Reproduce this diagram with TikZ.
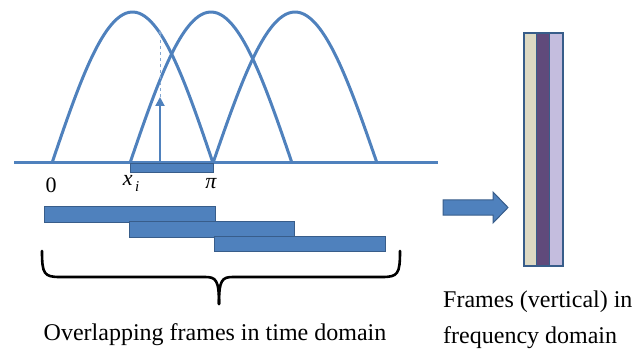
\documentclass[tikz,border=0pt]{standalone}
\usepackage{fontspec}
\setmainfont{Liberation Serif}
\usetikzlibrary{arrows.meta}
\definecolor{pblue}{HTML}{4F81BD}
\definecolor{pdark}{HTML}{385D8A}
\definecolor{beige}{HTML}{DDD9C3}
\definecolor{plum}{HTML}{604A7B}
\definecolor{lav}{HTML}{C4BDDE}
\tikzset{
  arch/.style={draw=pblue, line width=3pt},
  bar/.style={draw=pdark, fill=pblue, line width=1pt, inner sep=0pt, anchor=north west},
  strip/.style={draw=pdark, line width=1.2pt, inner sep=0pt, anchor=north west, minimum width=12.7pt, minimum height=232pt},
  lbl/.style={font=\fontsize{22}{24}\selectfont, inner sep=0pt},
  captext/.style={font=\fontsize{24}{36}\selectfont, inner sep=0pt, align=left}
}
\begin{document}
\begin{tikzpicture}[x=1pt,y=-1pt]
\useasboundingbox (0,0) rectangle (644,355);
% axis
\coordinate (axL) at (14,163);
\coordinate (axR) at (438,163);
\draw[arch] (axL) -- (axR);
% arches
\draw[arch] plot[domain=0:180,samples=60,smooth] ({52+0.8944*\x},{163-151*sin(\x)});
\draw[arch] plot[domain=0:180,samples=60,smooth] ({130+0.9*\x},{163-151*sin(\x)});
\draw[arch] plot[domain=0:180,samples=60,smooth] ({213+0.9111*\x},{163-151*sin(\x)});
% small frame on axis
\node[bar, minimum width=83pt, minimum height=9pt] (sf) at (130,163) {};
% vertical arrow and dashed extension
\coordinate (va) at (160,163);
\coordinate (vt) at (160,97);
\coordinate (vd) at (160,30);
\draw[pblue, line width=2pt, -{Triangle[length=9pt,width=9pt]}] (va) -- (vt);
\draw[pblue!70, line width=0.9pt, dashed, -{Triangle[length=4pt,width=4pt]}] (vt) -- (vd);
% labels
\node[lbl] (l0) at (51,185) {0};
\node[lbl] (lx) at (131,183) {\itshape x\raisebox{-6pt}{\fontsize{15}{15}\selectfont\,i}};
\node[lbl] (lpi) at (211,184) {\itshape π};
% overlapping bars
\node[bar, minimum width=171pt, minimum height=16pt] (b1) at (44,206) {};
\node[bar, minimum width=165pt, minimum height=16pt] (b2) at (129,221) {};
\node[bar, minimum width=171pt, minimum height=15pt] (b3) at (214,236) {};
% brace
\coordinate (brL) at (42,251);
\coordinate (brR) at (400,251);
\coordinate (brM) at (219,304);
\draw[black, line width=2.6pt, line cap=round]
  (brL) .. controls (42,274) and (44,277) .. (60,277) -- (205,277)
  .. controls (216,277) and (219,280) .. (brM);
\draw[black, line width=2.6pt, line cap=round]
  (brR) .. controls (400,274) and (398,277) .. (382,277) -- (233,277)
  .. controls (222,277) and (219,280) .. (brM);
\node[captext, anchor=base] (capL) at (215,340) {Overlapping frames in time domain};
% big arrow
\coordinate (arT) at (443,207.5);
\draw[draw=pdark, fill=pblue, line width=1pt, line join=miter]
  (arT) ++(0,-7.5) -- ++(50,0) -- ++(0,-8) -- (508,207.5) -- (493,223) -- ++(0,-8) -- (443,215) -- cycle;
% frequency frames
\node[strip, fill=beige] (s1) at (523.5,33) {};
\node[strip, fill=plum] (s2) at (536.2,33) {};
\node[strip, fill=lav] (s3) at (548.9,33) {};
\draw[pdark, line width=1.4pt] (s1.north west) rectangle (s3.south east);
\node[captext, anchor=north west] (capR) at (443,291) {Frames (vertical) in\\frequency domain};
\end{tikzpicture}
\end{document}
